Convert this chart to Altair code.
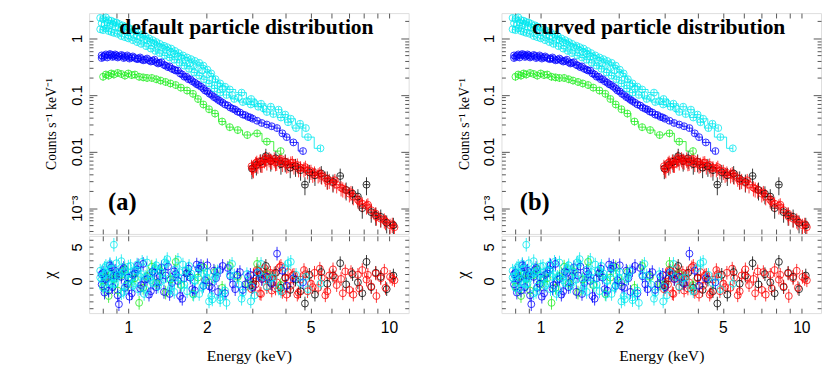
import altair as alt
import pandas as pd

# ---------------- data ----------------
SERIES = ["black", "red", "red2", "green", "blue", "blue2", "cyan1", "cyan3", "cyan2"]
COLORS = ["#000000", "#ff0000", "#ff0000", "#22ee22", "#0000ff", "#0000ff",
          "#00e8f0", "#00e8f0", "#00e8f0"]
STEP_SERIES = ["green", "blue", "cyan1", "cyan2"]

cyan1_E = [0.78, 0.80, 0.82, 0.84, 0.86, 0.88, 0.90, 0.92, 0.95, 0.97,
           1.00, 1.03, 1.06, 1.09, 1.13, 1.16, 1.20, 1.24, 1.28, 1.32,
           1.37, 1.41, 1.46, 1.51, 1.56, 1.62, 1.68, 1.74, 1.80, 1.87,
           1.94, 2.01, 2.08, 2.16, 2.25, 2.35, 2.45, 2.72, 2.96, 3.23,
           3.52, 3.77, 4.00, 4.20, 4.56, 4.80]
cyan1_C = [2.30, 2.20, 2.35, 2.10, 2.05, 1.95, 1.90, 1.80, 1.70, 1.62,
           1.55, 1.45, 1.35, 1.28, 1.17, 1.10, 1.00, 0.93, 0.86, 0.80,
           0.74, 0.70, 0.66, 0.60, 0.55, 0.50, 0.46, 0.43, 0.40, 0.37,
           0.33, 0.28, 0.24, 0.19, 0.16, 0.14, 0.125, 0.11, 0.085, 0.07,
           0.062, 0.055, 0.045, 0.038, 0.031, 0.026]
cyan1_R = [1.5, 0.8, 2.2, 0.3, 1.8, -0.5, 2.6, 0.9, 1.2, -0.8,
           2.1, 0.4, 1.6, -1.2, 2.8, 0.6, 1.0, -0.3, 2.3, 1.4,
           0.2, 3.2, -0.9, 1.7, 0.5, 2.4, -1.5, 1.1, 0.0, 2.0,
           -0.6, 1.3, -2.2, 0.7, -2.8, -1.4, 0.9, -2.6, -0.8, 2.5,
           0.4, -1.1, 1.9, 2.8, -0.3, 0.6]

cyan3_E = [0.79, 0.81, 0.83, 0.85, 0.87, 0.89, 0.92, 0.94, 0.96, 0.99,
           1.02, 1.05, 1.08, 1.11, 1.15, 1.18, 1.22, 1.26, 1.30, 1.35,
           1.40, 1.45, 1.50, 1.55, 1.60, 1.66, 1.72, 1.78, 1.85, 1.92,
           2.00, 2.10, 2.20, 2.30, 2.50, 2.65, 2.85, 3.05, 3.30]
cyan3_C = [1.85, 1.75, 1.90, 1.70, 1.80, 1.60, 1.55, 1.45, 1.50, 1.30,
           1.25, 1.15, 1.10, 1.05, 0.96, 0.92, 0.85, 0.80, 0.72, 0.68,
           0.62, 0.57, 0.53, 0.48, 0.45, 0.40, 0.36, 0.33, 0.30, 0.27,
           0.23, 0.19, 0.15, 0.13, 0.10, 0.09, 0.078, 0.072, 0.058]
cyan3_R = [0.2, 1.9, -1.1, 2.5, 0.7, -0.4, 1.3, 2.9, -1.6, 0.9,
           2.2, -0.3, 1.5, 0.6, -1.9, 2.7, 0.1, 1.8, -0.8, 1.2,
           2.5, -1.3, 0.4, 3.1, -0.6, 1.6, 0.8, -2.0, 1.1, -0.9,
           0.5, -2.7, 1.4, -1.8, 2.5, -0.5, 1.0, -2.1, 0.6]

cyan2_E = [0.78, 0.80, 0.82, 0.84, 0.86, 0.88, 0.91, 0.94, 0.97, 1.00,
           1.04, 1.08, 1.12, 1.17, 1.22, 1.27, 1.32, 1.38, 1.44, 1.50,
           1.57, 1.64, 1.71, 1.79, 1.87, 1.95, 2.04, 2.14, 2.25, 2.38,
           2.55, 2.75, 2.95, 3.15, 3.40, 3.60, 3.85, 4.10, 4.40, 4.89,
           5.46]
cyan2_C = [1.45, 1.40, 1.50, 1.35, 1.30, 1.25, 1.20, 1.10, 1.05, 1.00,
           0.93, 0.86, 0.80, 0.73, 0.66, 0.60, 0.55, 0.50, 0.46, 0.42,
           0.37, 0.33, 0.29, 0.25, 0.22, 0.19, 0.16, 0.13, 0.11, 0.10,
           0.085, 0.075, 0.068, 0.062, 0.050, 0.046, 0.040, 0.033, 0.026, 0.018,
           0.0114]
cyan2_R = [0.5, -1.0, 1.2, 1.0, -0.4, 5.3, 0.8, -1.8, 1.5, 0.3,
           -0.7, 2.4, 1.0, -1.3, 0.6, 1.9, -0.2, 2.7, 0.4, -1.6,
           1.3, -0.5, 2.2, 0.1, -1.9, 1.0, -3.0, 0.3, -2.4, -3.2,
           0.8, -1.7, -3.0, 1.2, -0.8, 0.5, -1.5, 2.6, 0.9, -1.2,
           -0.4]

blue_E = [0.79, 0.80, 0.82, 0.84, 0.86, 0.88, 0.90, 0.92, 0.95, 0.97,
          1.00, 1.03, 1.06, 1.09, 1.12, 1.16, 1.20, 1.24, 1.28, 1.32,
          1.37, 1.42, 1.47, 1.52, 1.58, 1.64, 1.70, 1.76, 1.83, 1.90,
          1.97, 2.05, 2.13, 2.21, 2.30, 2.41, 2.52, 2.62, 2.75, 2.88,
          3.00, 3.12, 3.25, 3.40, 3.55, 3.72, 3.90, 4.05, 4.30, 4.68]
blue_C = [0.50, 0.47, 0.52, 0.50, 0.51, 0.49, 0.50, 0.48, 0.49, 0.47,
          0.47, 0.46, 0.45, 0.44, 0.43, 0.42, 0.41, 0.40, 0.38, 0.37,
          0.34, 0.31, 0.29, 0.27, 0.24, 0.21, 0.19, 0.175, 0.155, 0.14,
          0.12, 0.105, 0.092, 0.082, 0.073, 0.065, 0.057, 0.051, 0.045, 0.041,
          0.038, 0.035, 0.032, 0.030, 0.028, 0.026, 0.021, 0.018, 0.0145, 0.0102]
blue_R = [-0.5, 1.2, 0.3, -1.4, 2.0, 0.8, 0.8, -3.4, 1.6, -1.0,
          0.5, -1.8, 1.1, 2.3, -0.6, 0.2, -2.0, 1.4, -0.9, 0.7,
          -1.6, 2.1, -0.3, 1.0, -2.2, 0.4, 1.8, -1.2, 2.4, 2.2,
          0.1, -0.8, 1.5, -1.6, 2.2, 1.9, -0.5, 0.9, -1.3, 0.6,
          -0.9, 1.2, 0.3, 0.6, -0.4, 4.0, 1.5, -0.7, 0.4, -0.2]

blue2_E = [0.79, 0.81, 0.83, 0.85, 0.87, 0.89, 0.91, 0.94, 0.96, 0.99,
           1.01, 1.04, 1.08, 1.11, 1.14, 1.18, 1.22, 1.26, 1.30, 1.34,
           1.39, 1.44, 1.50, 1.55, 1.61, 1.67, 1.73, 1.80, 1.86, 1.94,
           2.01, 2.09, 2.17, 2.25, 2.35, 2.46, 2.57, 2.68, 2.81, 2.94]
blue2_C = [0.45, 0.49, 0.46, 0.53, 0.47, 0.52, 0.46, 0.51, 0.45, 0.50,
           0.44, 0.48, 0.43, 0.46, 0.41, 0.44, 0.39, 0.42, 0.36, 0.38,
           0.33, 0.32, 0.28, 0.27, 0.23, 0.21, 0.19, 0.165, 0.15, 0.13,
           0.115, 0.10, 0.088, 0.078, 0.068, 0.060, 0.055, 0.049, 0.044, 0.040]
blue2_R = [1.0, -1.7, 0.4, 2.3, -0.9, 1.5, -2.1, 0.6, 1.9, -0.4,
           -2.3, 0.9, 1.7, -1.1, 2.5, 0.3, -1.5, 1.2, -0.2, 2.0,
           0.8, -1.9, 1.4, 0.0, -2.6, 1.1, 0.5, -1.4, 1.8, -0.7,
           2.3, -1.0, 0.4, 1.6, -1.8, 0.7, -1.2, 1.3, -0.5, 0.9]

green_E = [0.80, 0.82, 0.84, 0.86, 0.88, 0.91, 0.94, 0.97, 1.00, 1.03,
           1.06, 1.10, 1.14, 1.18, 1.23, 1.28, 1.33, 1.39, 1.45, 1.52,
           1.59, 1.68, 1.77, 1.85, 1.94, 2.04, 2.15, 2.29, 2.45, 2.63,
           2.86, 3.12, 3.40, 3.84]
green_C = [0.21, 0.23, 0.22, 0.24, 0.23, 0.245, 0.235, 0.22, 0.24, 0.225,
           0.23, 0.21, 0.205, 0.20, 0.20, 0.19, 0.18, 0.17, 0.16, 0.15,
           0.135, 0.12, 0.105, 0.085, 0.068, 0.056, 0.047, 0.034, 0.027, 0.024,
           0.0196, 0.021, 0.015, 0.0102]
green_R = [-0.8, 0.6, -2.2, 1.0, 0.3, -1.4, 0.9, 1.7, -0.5, 0.3,
           0.4, -3.2, -1.0, 0.7, 2.1, -0.3, 1.4, -1.7, 0.2, 2.8,
           -0.6, 1.1, -1.9, 0.5, 2.0, -0.2, 1.3, -1.0, 2.2, 0.6,
           -0.4, 2.5, 1.0, -0.6]

red_E = [2.97, 3.02, 3.08, 3.14, 3.20, 3.26, 3.33, 3.40, 3.47, 3.55,
         3.63, 3.71, 3.80, 3.90, 4.00, 4.10, 4.20, 4.32, 4.45, 4.58,
         4.72, 4.87, 5.02, 5.18, 5.35, 5.52, 5.70, 5.90, 6.10, 6.30,
         6.55, 6.80, 7.05, 7.30, 7.60, 7.90, 8.20, 8.55, 8.90, 9.30,
         9.70, 10.1, 10.5]
red_C = [0.0055, 0.0048, 0.0062, 0.0058, 0.0068, 0.0060, 0.0072, 0.0066, 0.0075, 0.0068,
         0.0074, 0.0065, 0.0070, 0.0062, 0.0066, 0.0060, 0.0063, 0.0056, 0.0058, 0.0052,
         0.0050, 0.0046, 0.0045, 0.0042, 0.0039, 0.0037, 0.0034, 0.0031, 0.0028, 0.0026,
         0.0023, 0.0021, 0.0018, 0.0016, 0.0014, 0.0012, 0.0011, 0.00092, 0.00080, 0.00065,
         0.00058, 0.00050, 0.00046]
red_R = [-1.2, 0.8, -0.5, 1.5, -1.8, 0.3, 1.9, -0.9, 0.6, -1.4,
         1.1, -0.2, 2.0, -1.6, 0.4, 1.3, -0.7, 0.9, -2.0, 0.2,
         1.6, -1.5, -0.4, 1.2, -1.0, 0.5, -2.1, 0.8, 1.7, -0.6,
         0.3, 1.4, -1.3, -2.0, 0.9, 1.6, 0.2, -0.8, 1.1, 0.4,
         -1.0, 0.6, 0.1]

red2_E = [3.00, 3.11, 3.23, 3.36, 3.51, 3.67, 3.85, 4.05, 4.26, 4.50,
          4.78, 5.10, 5.43, 5.80, 6.20, 6.65, 7.15, 7.70, 8.30, 8.95,
          9.60, 10.3]
red2_C = [0.0050, 0.0065, 0.0060, 0.0078, 0.0070, 0.0064, 0.0074, 0.0058, 0.0064, 0.0050,
          0.0053, 0.0040, 0.0041, 0.0030, 0.0031, 0.0022, 0.0019, 0.0013, 0.00115, 0.00070,
          0.00062, 0.00052]
red2_R = [-0.8, 1.6, -1.9, 0.7, 1.2, -1.1, 2.2, -2.0, 0.8, -1.7,
          1.0, -0.9, 1.8, -1.5, 0.5, -1.8, 1.3, -1.1, 0.9, -2.2,
          1.5, 0.3]

black_E = [2.98, 3.10, 3.22, 3.37, 3.52, 3.68, 3.85, 4.00, 4.18, 4.38,
           4.58, 4.76, 4.95, 5.20, 5.50, 5.80, 6.10, 6.50, 6.85, 7.25,
           7.60, 7.90, 8.20, 8.55, 8.90, 9.30, 9.80, 10.4]
black_C = [0.0050, 0.0058, 0.0066, 0.0083, 0.0068, 0.0076, 0.0060, 0.0066, 0.0052, 0.0055,
           0.0047, 0.0026, 0.0043, 0.0038, 0.0041, 0.0033, 0.0029, 0.0037, 0.0021, 0.0018,
           0.0016, 0.0010, 0.0026, 0.00085, 0.00075, 0.00070, 0.00055, 0.00050]
black_R = [-0.6, 0.4, 1.0, 2.2, -0.3, 1.2, -1.0, 0.5, -1.3, 0.2,
           -1.5, -3.3, 0.9, -2.0, 1.3, -0.4, 0.8, 2.6, -0.5, 1.0,
           -0.2, -1.8, 2.8, -0.9, 1.2, 0.6, -1.2, 0.8]

# relative 1-sigma errors of the counts per series
REL_ERR = {"black": 0.35, "red": 0.3, "red2": 0.3, "green": 0.15, "blue": 0.12,
           "blue2": 0.12, "cyan1": 0.12, "cyan3": 0.12, "cyan2": 0.12}

X_TICKS = [0.8, 0.9, 1, 2, 3, 4, 5, 6, 7, 8, 9, 10]
X_LABELS = [1, 2, 5, 10]
Y_MAJOR = [0.001, 0.01, 0.1, 1]
Y_MINOR = [0.0004, 0.0005, 0.0006, 0.0007, 0.0008, 0.0009,
           0.002, 0.003, 0.004, 0.005, 0.006, 0.007, 0.008, 0.009,
           0.02, 0.03, 0.04, 0.05, 0.06, 0.07, 0.08, 0.09,
           0.2, 0.3, 0.4, 0.5, 0.6, 0.7, 0.8, 0.9, 2]
R_TICKS = [-4, -3, -2, -1, 0, 1, 2, 3, 4, 5, 6]
R_LABELS = [0, 5]

PANELS = [("default particle distribution", "(a)"), ("curved particle distribution", "(b)")]

# ---------------- table ----------------
rows = []
for name, Es, Cs, Rs in [("black", black_E, black_C, black_R),
                         ("red", red_E, red_C, red_R),
                         ("red2", red2_E, red2_C, red2_R),
                         ("green", green_E, green_C, green_R),
                         ("blue", blue_E, blue_C, blue_R),
                         ("blue2", blue2_E, blue2_C, blue2_R),
                         ("cyan1", cyan1_E, cyan1_C, cyan1_R),
                         ("cyan3", cyan3_E, cyan3_C, cyan3_R),
                         ("cyan2", cyan2_E, cyan2_C, cyan2_R)]:
    assert len(Es) == len(Cs) == len(Rs), name
    e_rel = REL_ERR[name]
    for e, c, r in zip(Es, Cs, Rs):
        rows.append(dict(s=name, E=e, C=c, lo=c * (1 - e_rel), hi=c * (1 + e_rel),
                         xlo=e * 0.975, xhi=e * 1.025, R=r, rlo=r - 1, rhi=r + 1))
df = pd.DataFrame(rows)
axdf = pd.DataFrame({"E": [1.0], "C": [0.1], "R": [0.0]})

# ---------------- layout ----------------
W, H, HR = 327, 226, 79
FRAME = "#555555"
SANS = "Liberation Sans"
SERIF = "Liberation Serif"

xs = alt.Scale(type="log", domain=[0.707, 11.9], nice=False)
ys = alt.Scale(type="log", domain=[3.5e-4, 2.8], nice=False)
rs = alt.Scale(type="linear", domain=[-4.7, 6.6], nice=False, zero=False)
col = alt.Color("s:N", scale=alt.Scale(domain=SERIES, range=COLORS), legend=None)


def tick_ax(orient, offset, values, size):
    return alt.Axis(orient=orient, offset=offset, values=values, labels=False, domain=False,
                    ticks=True, tickSize=size, tickColor=FRAME, tickWidth=1, grid=False, title=None)


def ax_layer(yfield, yscale, xa, ya):
    return alt.Chart(axdf).mark_point(opacity=0).encode(
        x=alt.X("E:Q", scale=xs, axis=xa),
        y=alt.Y(yfield, scale=yscale, axis=ya),
    )


ylab_top = alt.Axis(orient="left", values=Y_MAJOR, ticks=False, domain=False, grid=False,
                    labelExpr="datum.value < 0.005 ? '10⁻³' : datum.value < 0.05 ? '0.01' : datum.value < 0.5 ? '0.1' : '1'",
                    labelAngle=270, labelAlign="center", labelBaseline="bottom",
                    labelFont=SANS, labelFontSize=15, labelColor="black", labelPadding=5,
                    title="Counts s⁻¹ keV⁻¹", titleFont=SERIF, titleFontSize=14,
                    titleFontWeight="normal", titleColor="black", titlePadding=11,
                    minExtent=20, maxExtent=20)
ylab_res = alt.Axis(orient="left", values=R_LABELS, ticks=False, domain=False, grid=False,
                    labelAngle=270, labelAlign="center", labelBaseline="bottom",
                    labelFont=SANS, labelFontSize=15, labelColor="black", labelPadding=5,
                    title="χ", titleFont=SERIF, titleFontSize=17,
                    titleFontWeight="normal", titleColor="black", titlePadding=11,
                    minExtent=20, maxExtent=20)
xlab_res = alt.Axis(orient="bottom", values=X_LABELS, ticks=False, domain=False, grid=False,
                    labelExpr="datum.value < 1.5 ? '1' : datum.value < 3 ? '2' : datum.value < 7 ? '5' : '10'",
                    labelFont=SANS, labelFontSize=16, labelColor="black", labelPadding=7,
                    labelFlush=False,
                    title="Energy (keV)", titleFont=SERIF, titleFontSize=16,
                    titleFontWeight="normal", titleColor="black", titlePadding=14,
                    minExtent=22, maxExtent=22)


def panel(title, tag):
    X = lambda f: alt.X(f, scale=xs, axis=None)
    Y = lambda f: alt.Y(f, scale=ys, axis=None)
    base = alt.Chart(df)

    err_v = base.mark_rule(strokeWidth=1, opacity=0.8, clip=True).encode(
        x=X("E:Q"), y=Y("lo:Q"), y2="hi:Q", color=col)
    err_h = base.transform_filter("datum.s == 'red' || datum.s == 'red2' || datum.s == 'black'").mark_rule(
        strokeWidth=1, opacity=0.8, clip=True).encode(
        x=X("xlo:Q"), x2="xhi:Q", y=Y("C:Q"), color=col)
    steps = base.transform_filter(alt.FieldOneOfPredicate(field="s", oneOf=STEP_SERIES)).mark_line(
        interpolate="step", strokeWidth=1, opacity=0.85, clip=True).encode(
        x=X("E:Q"), y=Y("C:Q"), color=col, detail="s:N")
    circ = base.mark_point(shape="circle", filled=False, size=50, strokeWidth=1,
                           opacity=0.8, clip=True).encode(
        x=X("E:Q"), y=Y("C:Q"), color=col)
    ttl = alt.Chart(pd.DataFrame({"t": [title]})).mark_text(
        font=SERIF, fontSize=22, fontWeight="bold", align="center", baseline="middle",
        color="black").encode(x=alt.value(161), y=alt.value(14), text="t:N")
    lab = alt.Chart(pd.DataFrame({"t": [tag]})).mark_text(
        font=SERIF, fontSize=25, fontWeight="bold", align="center", baseline="middle",
        color="black").encode(x=alt.value(34), y=alt.value(194), text="t:N")

    top = alt.layer(
        ax_layer("C:Q", ys, tick_ax("top", -H, X_TICKS, 5), ylab_top),
        ax_layer("C:Q", ys, tick_ax("bottom", -H, X_TICKS, 5), tick_ax("right", -W, Y_MAJOR, 8)),
        ax_layer("C:Q", ys, None, tick_ax("right", -W, Y_MINOR, 4)),
        ax_layer("C:Q", ys, None, tick_ax("left", -W, Y_MAJOR, 8)),
        ax_layer("C:Q", ys, None, tick_ax("left", -W, Y_MINOR, 4)),
        err_v, err_h, steps, circ, ttl, lab,
    ).resolve_axis(x="independent", y="independent").properties(width=W, height=H)

    RY = lambda f: alt.Y(f, scale=rs, axis=None)
    r_err = base.mark_rule(strokeWidth=1, opacity=0.8, clip=True).encode(
        x=X("E:Q"), y=RY("rlo:Q"), y2="rhi:Q", color=col)
    r_circ = base.mark_point(shape="circle", filled=False, size=50, strokeWidth=1,
                             opacity=0.8, clip=True).encode(
        x=X("E:Q"), y=RY("R:Q"), color=col)

    res = alt.layer(
        ax_layer("R:Q", rs, xlab_res, ylab_res),
        ax_layer("R:Q", rs, tick_ax("top", -HR, X_TICKS, 5), tick_ax("right", -W, R_TICKS, 4)),
        ax_layer("R:Q", rs, tick_ax("bottom", -HR, X_TICKS, 5), tick_ax("left", -W, R_TICKS, 4)),
        r_err, r_circ,
    ).resolve_axis(x="independent", y="independent").properties(width=W, height=HR)

    return alt.vconcat(top, res, spacing=0)


chart = alt.hconcat(panel(*PANELS[0]), panel(*PANELS[1]), spacing=44).properties(
    padding={"left": 33, "top": 0, "right": 0, "bottom": 0}
).configure_view(stroke=FRAME, strokeWidth=1).configure(background="white")

chart.save("out.html", embed_options={"renderer": "svg", "actions": False})
